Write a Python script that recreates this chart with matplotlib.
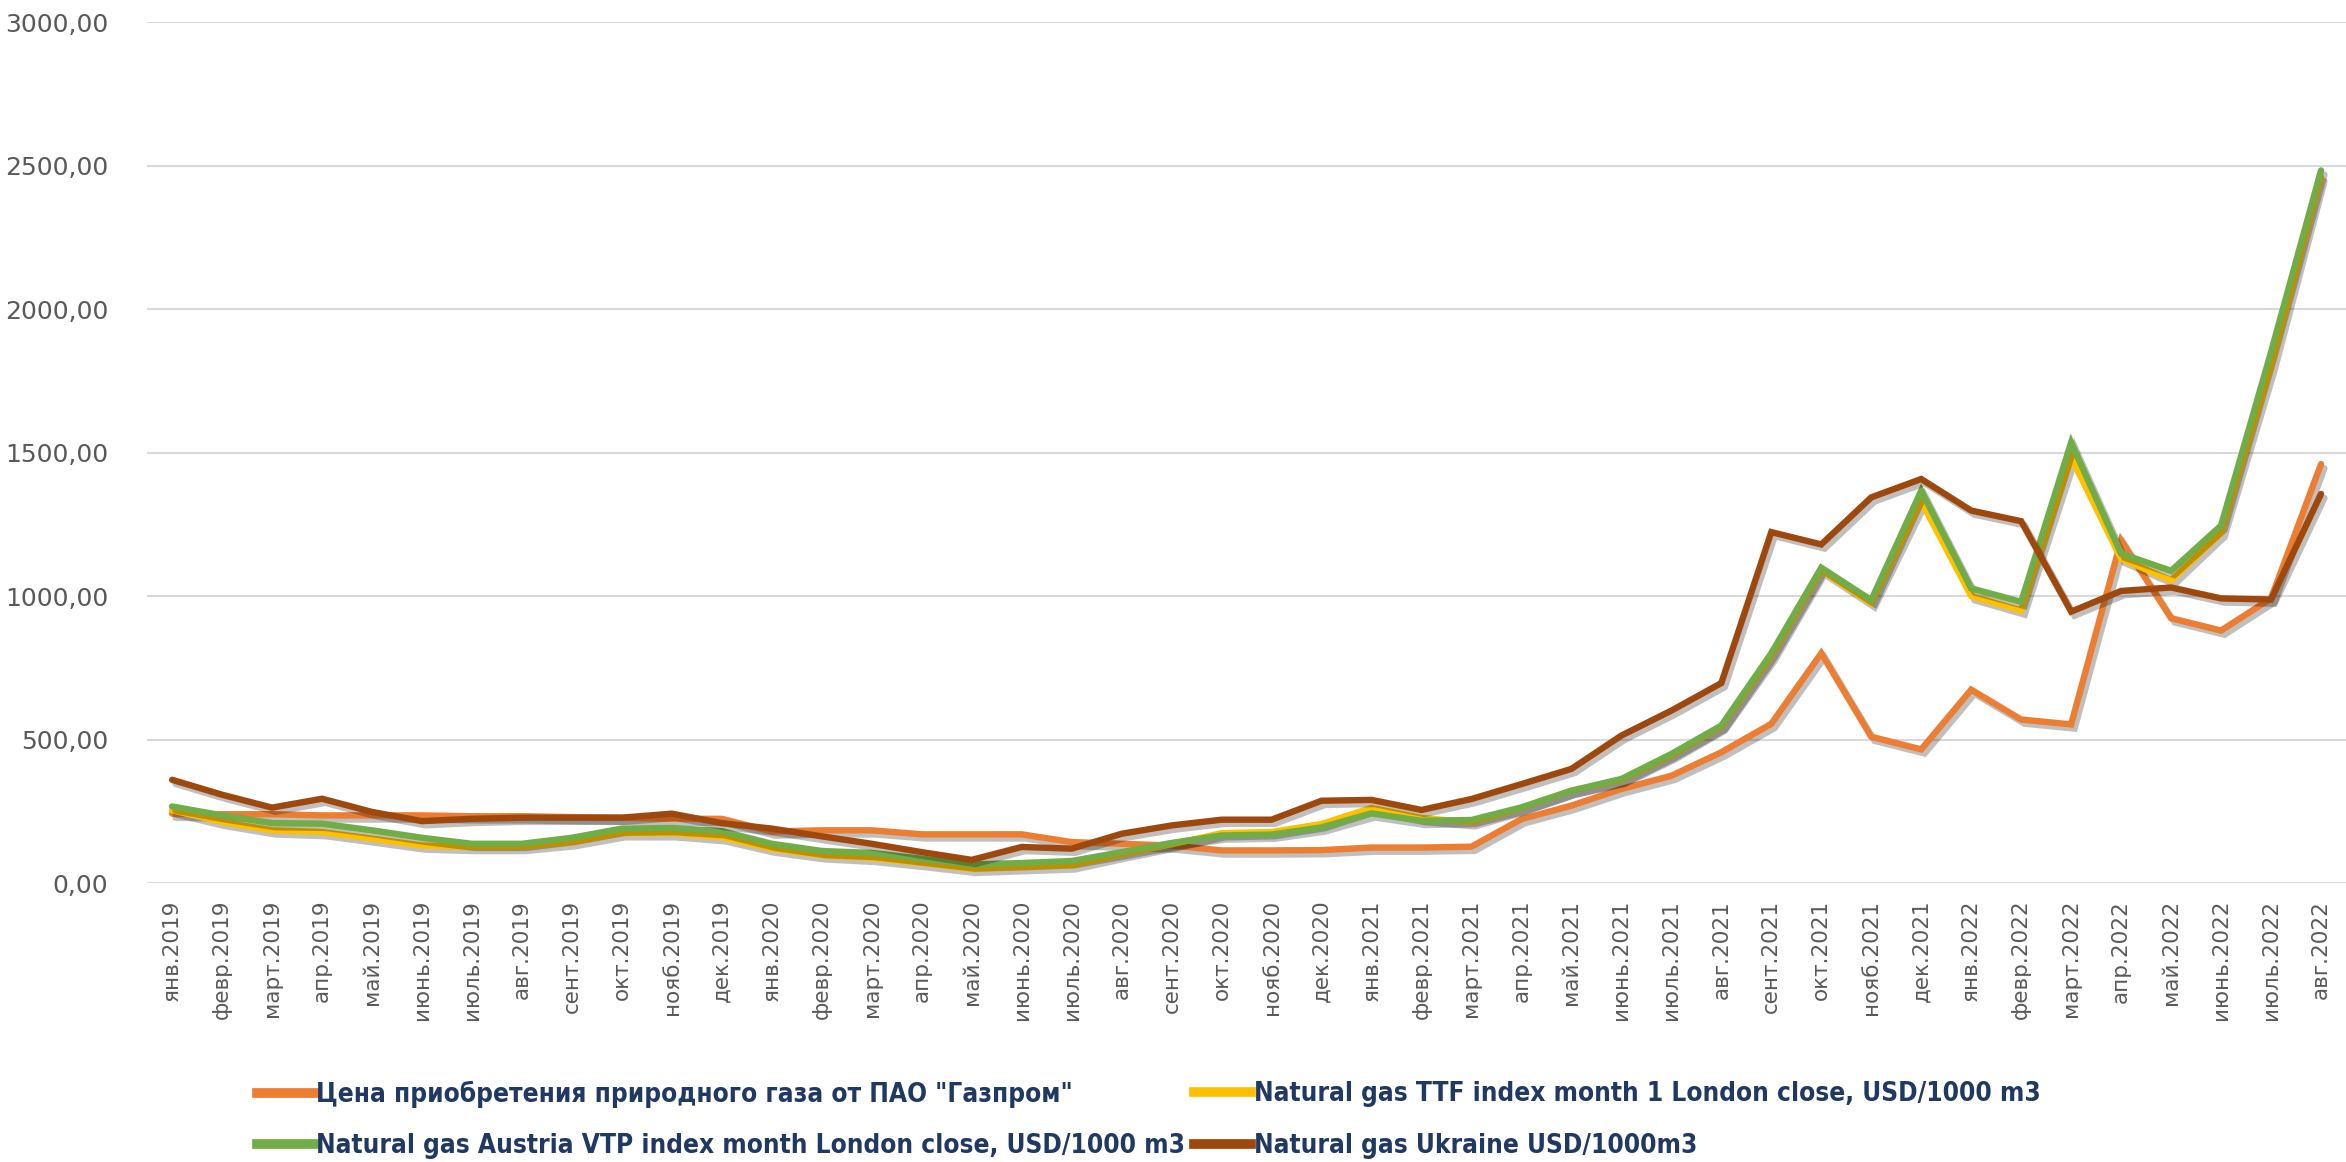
import matplotlib
matplotlib.use("Agg")
import matplotlib.pyplot as plt
import matplotlib.patheffects as pe
from matplotlib.lines import Line2D
from matplotlib.ticker import FuncFormatter
from matplotlib import font_manager as fm

months = ['янв.2019', 'февр.2019', 'март.2019', 'апр.2019', 'май.2019', 'июнь.2019',
          'июль.2019', 'авг.2019', 'сент.2019', 'окт.2019', 'нояб.2019', 'дек.2019',
          'янв.2020', 'февр.2020', 'март.2020', 'апр.2020', 'май.2020', 'июнь.2020',
          'июль.2020', 'авг.2020', 'сент.2020', 'окт.2020', 'нояб.2020', 'дек.2020',
          'янв.2021', 'февр.2021', 'март.2021', 'апр.2021', 'май.2021', 'июнь.2021',
          'июль.2021', 'авг.2021', 'сент.2021', 'окт.2021', 'нояб.2021', 'дек.2021',
          'янв.2022', 'февр.2022', 'март.2022', 'апр.2022', 'май.2022', 'июнь.2022',
          'июль.2022', 'авг.2022']

gazprom = [242, 240, 240, 236, 236, 236, 233, 233, 230, 228, 224, 224,
           180, 184, 184, 170, 170, 170, 143, 137, 131, 114, 114, 115,
           124, 124, 127, 223, 270, 328, 374, 456, 555, 801, 510, 466,
           674, 570, 553, 1194, 923, 880, 992, 1460]

ttf = [254, 213, 184, 178, 155, 131, 126, 126, 143, 174, 174, 160,
       120, 97, 88, 70, 50, 56, 62, 100, 135, 174, 178, 206,
       262, 227, 212, 262, 322, 360, 445, 545, 790, 1090, 975, 1330,
       1000, 950, 1483, 1130, 1055, 1220, 1800, 2460]

vtp = [267, 236, 209, 207, 184, 158, 137, 137, 158, 190, 192, 181,
       137, 112, 105, 85, 65, 70, 77, 108, 140, 166, 169, 194,
       243, 217, 220, 264, 322, 363, 450, 549, 801, 1099, 986, 1367,
       1027, 980, 1535, 1148, 1088, 1246, 1850, 2483]

ukraine = [360, 308, 263, 294, 248, 216, 224, 228, 228, 228, 242, 209,
           190, 163, 137, 108, 81, 126, 120, 172, 201, 221, 221, 287,
           290, 255, 293, 345, 398, 514, 601, 697, 1223, 1180, 1344, 1408,
           1298, 1261, 946, 1018, 1030, 992, 988, 1356]

series_names = ['Цена приобретения природного газа от ПАО "Газпром"',
                'Natural gas TTF index month 1 London close, USD/1000 m3',
                'Natural gas Austria VTP index month London close, USD/1000 m3',
                'Natural gas Ukraine USD/1000m3']
colors = ['#ED7D31', '#FFC000', '#70AD47', '#9E480E']
yticks = [0, 500, 1000, 1500, 2000, 2500, 3000]


def pick_legend_font():
    """Prefer an installed condensed/narrow bold sans-serif font."""
    prefs = ['liberationsansnarrow', 'dejavusanscondensed', 'notosans', 'opensans', 'roboto']
    cands = []
    for f in fm.fontManager.ttflist:
        fname = f.fname.lower().replace('-', '').replace('_', '')
        base = fname.rsplit('/', 1)[-1]
        if 'sans' not in base or 'serif' in base or 'mono' in base:
            continue
        if not ('condensed' in base or 'narrow' in base):
            continue
        if 'italic' in base or 'oblique' in base or 'semicondensed' in base \
                or 'extracondensed' in base:
            continue
        if 'bold' not in base or 'semibold' in base or 'extrabold' in base:
            continue
        score = 0
        for i, p in enumerate(prefs):
            if p in base:
                score = max(score, len(prefs) - i)
        cands.append((score, f.fname))
    cands.sort(reverse=True)
    if cands:
        return fm.FontProperties(fname=cands[0][1])
    return fm.FontProperties(family=['Liberation Sans', 'DejaVu Sans'], weight='bold')


fig = plt.figure(figsize=(23.46, 11.62), dpi=100)
ax = fig.add_axes([0.0627, 0.240, 0.9373, 0.741])

x = list(range(len(months)))
shadow = [pe.SimpleLineShadow(offset=(2.5, -3), shadow_color='black', alpha=0.25),
          pe.Normal()]
for vals, c in zip([gazprom, ttf, vtp, ukraine], colors):
    ax.plot(x, vals, color=c, lw=4.6, solid_joinstyle='miter', solid_capstyle='round',
            path_effects=shadow)

ax.set_xlim(-0.5, len(months) - 0.5)
ax.set_ylim(0, 3000)
ax.set_yticks(yticks)
ax.yaxis.set_major_formatter(FuncFormatter(lambda v, p: f"{v:.2f}".replace('.', ',')))
ax.set_xticks(x)
ax.set_xticklabels(months, rotation=90, ha='center', va='top')
ax.tick_params(axis='y', length=0, pad=28, labelsize=18, labelcolor='#595959')
ax.tick_params(axis='x', length=0, pad=12, labelsize=15.5, labelcolor='#595959')
ax.grid(axis='y', color='#D9D9D9', lw=1.5)
ax.set_axisbelow(True)
for s in ax.spines.values():
    s.set_visible(False)

# legend font: scale so the widest first-column label is ~868 px wide
lprop = pick_legend_font()
renderer = fig.canvas.get_renderer()
lprop.set_size(20)
probe = fig.text(0, 0, series_names[2], fontproperties=lprop)
w20 = probe.get_window_extent(renderer).width
probe.remove()
size = min(26, 20 * 868.0 / w20)
lprop.set_size(size)

handles = [Line2D([], [], color=c, lw=7) for c in colors]
anchors = [(0.1095, 0.0585), (0.509, 0.0585), (0.1095, 0.0138), (0.509, 0.0138)]
for h, name, (ax_, ay_) in zip(handles, series_names, anchors):
    lg = fig.legend([h], [name], loc='center left', bbox_to_anchor=(ax_, ay_),
                    frameon=False, handlelength=57.0 / (size * 100 / 72),
                    handletextpad=0.1, borderpad=0, borderaxespad=0, prop=lprop)
    for t in lg.get_texts():
        t.set_color('#1F3864')

fig.savefig('out.png', dpi=100)
